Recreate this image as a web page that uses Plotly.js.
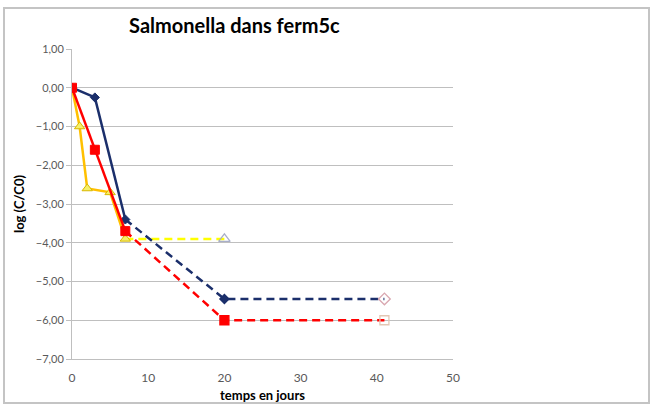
<!DOCTYPE html>
<html>
<head>
<meta charset="utf-8">
<script src="https://cdn.plot.ly/plotly-3.0.1.min.js"></script>
<style>
  html, body { margin: 0; padding: 0; background: #fff; }
  #wrap { position: relative; width: 651px; height: 405px; }
  #chart { position: absolute; left: 0; top: 0; width: 651px; height: 405px; }
  #frame { position: absolute; left: 3px; top: 7px; width: 643px; height: 393px;
           border: 2px solid #C4C4C4; pointer-events: none; }
</style>
</head>
<body>
<div id="wrap"><div id="chart"></div><div id="frame"></div></div>
<script>
// Measured series (days, log(C/C0))
const blueX = [0, 3, 7];
const blueY = [0, -0.25, -3.4];
const redX = [0, 3, 7];
const redY = [0, -1.6, -3.7];
const yellowX = [0, 1, 2, 5, 7];
const yellowY = [0, -1.0, -2.6, -2.7, -3.9];

// Extrapolated (dashed) segments
const blueDashX = [7, 20, 41];
const blueDashY = [-3.4, -5.45, -5.45];
const redDashX = [7, 20, 41];
const redDashY = [-3.7, -6.0, -6.0];
const yellowDashX = [7, 20];
const yellowDashY = [-3.9, -3.9];

const xTicks = [0, 10, 20, 30, 40, 50];
const yTicks = [1, 0, -1, -2, -3, -4, -5, -6, -7];

const navy = '#1B2F6B';
const red = '#FF0000';
const orange = '#FFC000';
const yellow = '#FFFF00';

const traces = [
  { x: yellowDashX, y: yellowDashY, mode: 'lines+markers', type: 'scatter',
    line: { color: yellow, width: 2.5, dash: '8px,5px' },
    marker: { symbol: ['triangle-up', 'triangle-up-open'], size: [0, 10], opacity: 1,
              color: '#A9AFC9', line: { width: 1.3, color: '#A9AFC9' } } },
  { x: blueDashX, y: blueDashY, mode: 'lines+markers', type: 'scatter',
    line: { color: navy, width: 2.5, dash: '8px,5px' },
    marker: { symbol: ['diamond', 'diamond', 'diamond-open'], size: [0, 7, 9], opacity: 1,
              color: [navy, navy, '#D9A7B0'],
              line: { width: 1.3, color: [navy, navy, '#D9A7B0'] } } },
  { x: redDashX, y: redDashY, mode: 'lines+markers', type: 'scatter',
    line: { color: red, width: 2.5, dash: '8px,5px' },
    marker: { symbol: ['square', 'square', 'square-open'], size: [0, 9, 9], opacity: 1,
              color: [red, red, '#E3C7B4'],
              line: { width: 1.3, color: [red, red, '#E3C7B4'] } } },
  { x: yellowX, y: yellowY, mode: 'lines+markers', type: 'scatter',
    line: { color: orange, width: 2.5 },
    marker: { symbol: 'triangle-up', size: 9, color: '#F5F06A',
              line: { color: '#D9B800', width: 1 } } },
  { x: blueX, y: blueY, mode: 'lines+markers', type: 'scatter',
    line: { color: navy, width: 2.5 },
    marker: { symbol: 'diamond', size: 7, color: navy, line: { color: navy, width: 1 } } },
  { x: redX, y: redY, mode: 'lines+markers', type: 'scatter',
    line: { color: red, width: 2.5 },
    marker: { symbol: 'square', size: 9, color: red, line: { color: red, width: 1 } } }
];

const layout = {
  width: 651, height: 405,
  margin: { l: 72, r: 198, t: 49, b: 46 },
  paper_bgcolor: '#fff', plot_bgcolor: '#fff',
  showlegend: false,
  separators: ', ',
  font: { family: 'Lato, "Open Sans", sans-serif', size: 11, color: '#595959' },
  title: {
    text: 'Salmonella dans ferm5c',
    font: { family: 'Lato, "Open Sans", sans-serif', size: 20, color: '#000', weight: 'bold' },
    xref: 'container', x: 0.36, xanchor: 'center',
    yref: 'container', y: 0.935, yanchor: 'middle'
  },
  xaxis: {
    range: [0, 50], tickvals: xTicks, ticktext: xTicks.map(String),
    showgrid: false, zeroline: false,
    showline: true, linecolor: '#BFBFBF', linewidth: 1,
    ticks: 'outside', ticklen: 8, tickcolor: 'rgba(0,0,0,0)',
    tickfont: { size: 12, color: '#595959' },
    title: { text: 'temps en jours', standoff: 6,
             font: { size: 13, color: '#000', weight: 'bold' } }
  },
  yaxis: {
    range: [-7, 1], tickvals: yTicks, tickformat: '.2f',
    showgrid: true, gridcolor: '#BFBFBF', gridwidth: 1,
    zeroline: false, showline: true, linecolor: '#BFBFBF', linewidth: 1,
    ticks: 'outside', ticklen: 5, tickcolor: '#BFBFBF',
    tickfont: { size: 11, color: '#595959' },
    title: { text: 'log (C/C0)', standoff: 8,
             font: { size: 13, color: '#000', weight: 'bold' } }
  }
};

Plotly.newPlot('chart', traces, layout, { staticPlot: true, displayModeBar: false });
</script>
</body>
</html>
